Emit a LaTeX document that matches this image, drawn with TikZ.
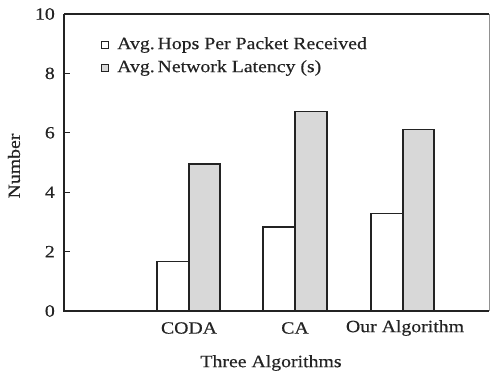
\documentclass[tikz,border=0pt]{standalone}
\usepackage{fontspec}
\setmainfont[FakeStretch=1.15,FakeBold=0.4]{Liberation Serif}
\definecolor{barfill}{RGB}{216,216,216}
\definecolor{ink}{RGB}{35,35,35}
\begin{document}
\begin{tikzpicture}[x=1bp,y=-1bp,
  axisline/.style={draw=ink,line width=1.5bp},
  whitebar/.style={draw=ink,line width=1.2bp,fill=white},
  graybar/.style={draw=ink,line width=1.2bp,fill=barfill},
  lbl/.style={font=\fontsize{17.2bp}{20bp}\selectfont,text=ink,inner sep=0pt},
  legsq/.style={draw=ink,line width=1bp,fill=white,minimum size=7bp,inner sep=0pt}]
\useasboundingbox (0,0) rectangle (491,374);
% bars (value v -> y = 311 - 29.7 v)
\draw[whitebar] (157,311) rectangle (189,{311-29.7*1.68});
\draw[graybar] (189,311) rectangle (220,{311-29.7*4.95});
\draw[whitebar] (263,311) rectangle (295,{311-29.7*2.83});
\draw[graybar] (295,311) rectangle (327,{311-29.7*6.73});
\draw[whitebar] (371,311) rectangle (403,{311-29.7*3.27});
\draw[graybar] (403,311) rectangle (434,{311-29.7*6.10});
% frame
\draw[axisline] (64,14) -- (64,311) -- (489,311);
\draw[draw=ink,line width=1.3bp] (64,14) -- (489,14);
\draw[draw=ink!50,line width=0.6bp] (489,14) -- (489,311);
% ticks and labels
\foreach \v in {0,2,4,6,8,10}{
  \draw[draw=ink,line width=1.1bp] (64,{311-29.7*\v}) -- (70,{311-29.7*\v});
  \node[lbl,anchor=east] (t\v) at (55,{311-29.7*\v}) {\v};
}
% category labels
\node[lbl] (coda) at (189,328) {CODA};
\node[lbl] (ca) at (295,328) {CA};
\node[lbl] (our) at (405,328) {Our Algorithm};
\node[lbl] (xlab) at (271,363) {Three Algorithms};
\node[lbl,rotate=90] (ylab) at (14,166) {Number};
% legend
\node[legsq] (sq1) at (105,45) {};
\node[legsq,fill=barfill] (sq2) at (105,68) {};
\node[lbl,anchor=west] (leg1) at (117,45) {Avg.\,Hops Per Packet Received};
\node[lbl,anchor=west] (leg2) at (117,68) {Avg.\,Network Latency (s)};
\end{tikzpicture}
\end{document}
